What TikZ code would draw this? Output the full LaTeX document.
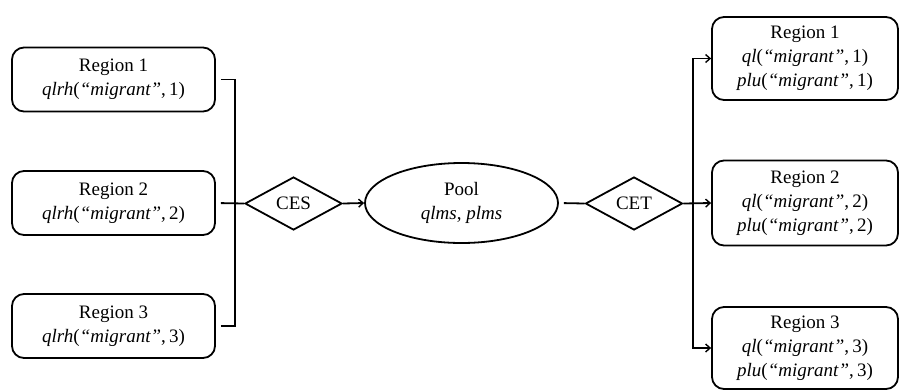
\documentclass[tikz,border=0pt]{standalone}
\usepackage{fontspec}
\setmainfont{Liberation Serif}
\usetikzlibrary{shapes.geometric,arrows.meta}
\newcommand{\vr}[1]{\textit{#1}}
\begin{document}
\begin{tikzpicture}[x=1pt,y=-1pt,
  line width=1.8pt,
  every node/.style={font=\fontsize{19}{24}\selectfont, align=center},
  region/.style={draw, rounded corners=12pt, inner sep=0pt},
  gate/.style={draw, diamond, inner sep=0pt, minimum width=97pt, minimum height=53pt},
  pool/.style={draw, ellipse, inner sep=0pt, minimum width=193pt, minimum height=80pt},
  flow/.style={-{Straight Barb[length=4.5pt,width=8pt,line width=1.4pt]}}
]
\useasboundingbox (0,0) rectangle (901,389);

% source regions
\node[region, minimum width=203pt, minimum height=64pt] (L1) at (113.5,79.5)
  {Region 1\\\vr{qlrh}(\vr{“migrant”},\,1)};
\node[region, minimum width=203pt, minimum height=64pt] (L2) at (113.5,203)
  {Region 2\\\vr{qlrh}(\vr{“migrant”},\,2)};
\node[region, minimum width=203pt, minimum height=64pt] (L3) at (113.5,326)
  {Region 3\\\vr{qlrh}(\vr{“migrant”},\,3)};

% aggregation and pool
\node[gate] (CES) at (293.5,203.5) {CES};
\node[pool] (Pool) at (461.5,203) {Pool\\\vr{qlms}, \vr{plms}};
\node[gate] (CET) at (634,203.5) {CET};

% destination regions
\node[region, minimum width=186pt, minimum height=83pt] (R1) at (805,58.5)
  {Region 1\\\vr{ql}(\vr{“migrant”},\,1)\\\vr{plu}(\vr{“migrant”},\,1)};
\node[region, minimum width=186pt, minimum height=85pt] (R2) at (805,203)
  {Region 2\\\vr{ql}(\vr{“migrant”},\,2)\\\vr{plu}(\vr{“migrant”},\,2)};
\node[region, minimum width=186pt, minimum height=82pt] (R3) at (805,348)
  {Region 3\\\vr{ql}(\vr{“migrant”},\,3)\\\vr{plu}(\vr{“migrant”},\,3)};

% buses
\coordinate (busL) at (235,203.5);
\coordinate (busR) at (693,203.5);

\draw[shorten <=5pt] (L1.east) -| (busL);
\draw[shorten <=5pt] (L3.east) -| (busL);
\draw[shorten <=5pt] (L2.east) -- (CES.west);
\draw[flow] (CES.east) -- (Pool.west);
\draw[shorten <=5pt] (Pool.east) -- (CET.west);
\draw[flow] (CET.east) -- (R2.west);
\draw[flow] (busR) |- (R1.west);
\draw[flow] (busR) |- (R3.west);
\end{tikzpicture}
\end{document}
